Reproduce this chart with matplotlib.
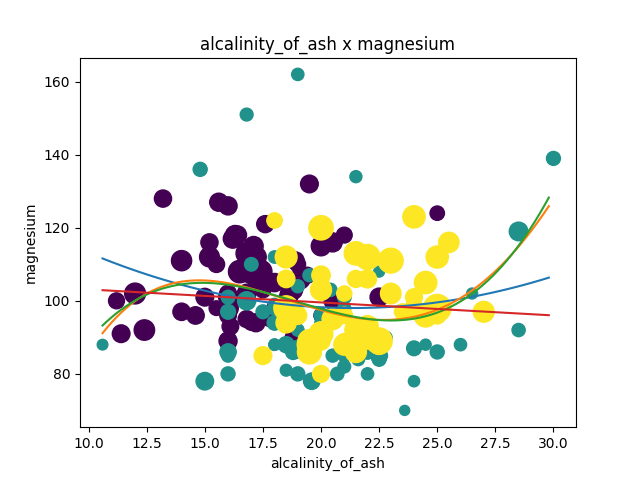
import numpy as np
import matplotlib
matplotlib.use("Agg")
import matplotlib.pyplot as plt

# wine dataset: alcalinity_of_ash, magnesium, color_intensity, class
alcalinity = [
    15.6, 11.2, 18.6, 16.8, 21, 15.2, 14.6, 17.6, 14, 16, 18, 16.8, 16, 11.4, 12, 17.2, 20, 20, 16.5, 15.2,
    16, 18.6, 16.6, 17.8, 20, 25, 16.1, 17, 19.4, 16, 22.5, 19.1, 17.2, 19.5, 19, 20.5, 15.5, 18, 15.5, 13.2,
    16.2, 18.8, 15, 17.5, 17, 18.9, 16, 16, 18.8, 17.4, 12.4, 17.2, 14, 17.1, 16.4, 20.5, 16.3, 16.8, 16.7,
    10.6, 16, 16.8, 18, 19, 19, 18.1, 15, 19.6, 17, 16.8, 20.4, 25, 24, 30, 21, 16, 16, 18, 14.8, 23, 19, 18.8,
    24, 22.5, 18, 18, 22.8, 26, 21.6, 23.6, 18.5, 22, 20.7, 18, 18, 19, 21.5, 16, 18.5, 18, 17.5, 18.5, 21,
    19.5, 20.5, 22, 19, 22.5, 19, 20, 19.5, 21, 20, 21, 22.5, 21.5, 20.8, 22.5, 16, 19, 20, 28.5, 26.5, 21.5,
    21, 21, 21.5, 28.5, 24.5, 22,
    18, 20, 24, 21.5, 17.5, 18.5, 21, 25, 19.5, 24, 21, 20, 23.5, 20, 18.5, 21, 20, 21.5, 21.5, 21.5, 24, 22,
    25.5, 18.5, 20, 22, 19.5, 27, 25, 22.5, 21, 20, 22, 18.5, 22, 22.5, 23, 19.5, 24.5, 25, 19, 19.5, 20, 20.5,
    23, 20, 20, 24.5,
]
magnesium = [
    127, 100, 101, 113, 118, 112, 96, 121, 97, 98, 105, 95, 89, 91, 102, 112, 120, 115, 108, 116,
    126, 102, 101, 95, 96, 124, 93, 94, 107, 96, 101, 106, 104, 132, 110, 100, 110, 98, 98, 128,
    117, 90, 101, 103, 107, 111, 102, 101, 103, 108, 92, 94, 111, 115, 118, 116, 118, 102, 108,
    88, 101, 100, 94, 87, 104, 98, 78, 78, 110, 151, 103, 86, 87, 139, 101, 97, 86, 112, 136, 101, 86, 86,
    78, 85, 94, 99, 90, 88, 84, 70, 81, 86, 80, 88, 98, 162, 134, 85, 88, 88, 97, 88, 98,
    86, 85, 90, 80, 84, 92, 94, 107, 88, 103, 88, 84, 85, 86, 108, 80, 87, 96, 119, 102, 86,
    82, 85, 86, 92, 88, 80,
    122, 104, 98, 106, 85, 94, 89, 96, 88, 101, 96, 89, 97, 92, 112, 102, 80, 86, 92, 113, 123, 112,
    116, 98, 103, 93, 89, 97, 98, 89, 88, 107, 106, 106, 90, 88, 111, 88, 105, 112, 96, 86, 91, 95,
    102, 120, 120, 96,
]
color_intensity = [
    5.64, 4.38, 5.68, 7.8, 4.32, 6.75, 5.25, 5.05, 5.2, 7.22, 5.75, 5, 5.6, 5.4, 7.5, 7.3, 6.2, 6.6, 8.7, 5.1,
    5.65, 4.5, 3.8, 3.93, 3.52, 3.58, 4.8, 3.95, 4.5, 4.7, 5.7, 6.9, 3.84, 5.4, 4.2, 5.1, 4.6, 4.25, 3.7, 5.1,
    6.13, 4.28, 5.43, 4.36, 5.04, 5.24, 4.9, 6.1, 6.2, 8.9, 7.2, 5.6, 7.05, 6.3, 5.85, 6.25, 6.38, 6, 6.8,
    1.95, 3.27, 5.75, 3.8, 4.45, 2.95, 4.6, 5.3, 4.68, 3.17, 2.85, 3.05, 3.38, 3.74, 3.35, 3.21, 3.8, 4.6, 2.65,
    3.4, 2.57, 2.5, 3.9, 2.2, 4.8, 3.05, 2.62, 2.45, 2.6, 2.8, 1.74, 2.4, 3.6, 3.05, 2.15, 3.25, 2.6, 2.5, 2.9,
    4.5, 2.3, 3.3, 2.45, 2.8, 2.06, 2.94, 2.7, 3.4, 3.3, 2.7, 2.65, 2.9, 2, 3.8, 3.08, 2.9, 1.9, 1.95, 2.06,
    3.4, 1.28, 3.25, 6, 2.08, 2.6, 2.8, 2.76, 3.94, 3, 2.12, 2.6,
    4.1, 5.4, 5.7, 5, 5.45, 7.1, 3.85, 5, 5.7, 4.92, 4.6, 5.6, 4.35, 4.4, 8.21, 4, 4.9, 7.65, 8.42, 9.4, 8.6,
    10.8, 7.1, 10.52, 7.6, 7.9, 9.01, 7.5, 13, 11.75, 7.65, 5.88, 5.58, 5.28, 9.58, 6.62, 10.68, 10.26, 8.66,
    8.5, 5.5, 9.9, 9.7, 7.7, 7.3, 10.2, 9.3, 9.2,
]
target = [0] * 59 + [1] * 71 + [2] * 48

x = np.array(alcalinity, dtype=float)
y = np.array(magnesium, dtype=float)
ci = np.array(color_intensity, dtype=float)
t = np.array(target)

fig, ax = plt.subplots(figsize=(6.4, 4.8), dpi=100)
ax.scatter(x, y, c=t, s=ci * 30, cmap="viridis")

xs = np.arange(x.min(), x.max(), 0.2)
for deg, col in [(2, "C0"), (4, "C1"), (3, "C2"), (1, "C3")]:
    coef = np.polyfit(x, y, deg)
    ax.plot(xs, np.polyval(coef, xs), color=col)

ax.set_title("alcalinity_of_ash x magnesium")
ax.set_xlabel("alcalinity_of_ash")
ax.set_ylabel("magnesium")
fig.savefig("out.png", dpi=100)
